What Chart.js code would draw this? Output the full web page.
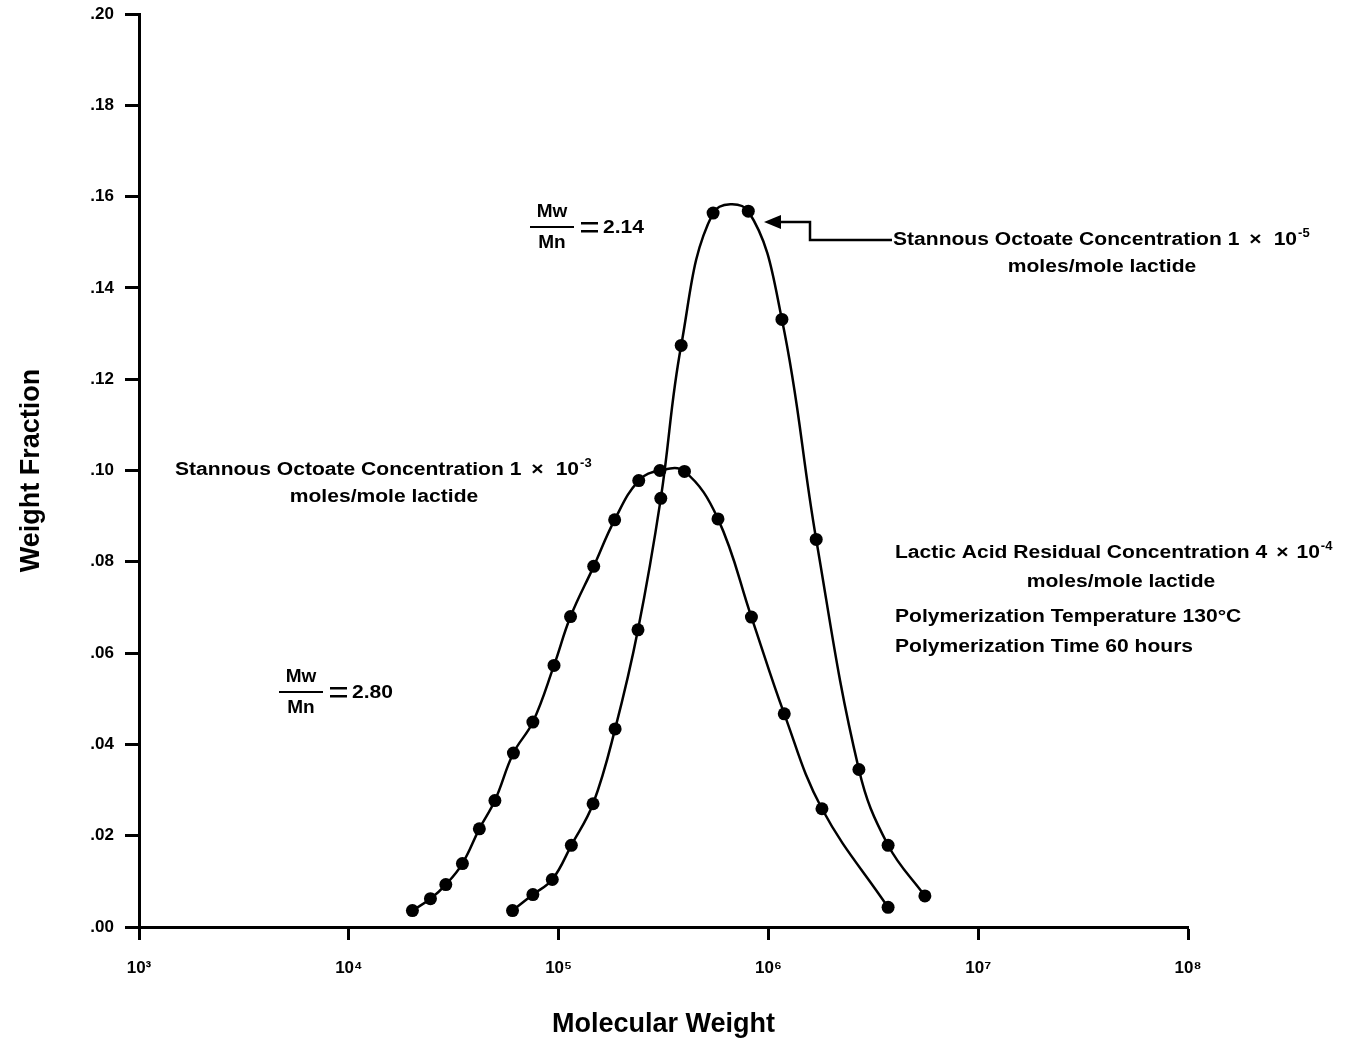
<!DOCTYPE html>
<html>
<head>
<meta charset="utf-8">
<script src="https://cdn.jsdelivr.net/npm/chart.js@4.4.1/dist/chart.umd.min.js"></script>
<style>
  body { margin: 0; background: #fff; }
  canvas { display: block; }
</style>
</head>
<body>
<canvas id="myChart" width="1346" height="1042"></canvas>
<script>
// molecular weight (x) and weight fraction (y)
const mwHighCat = [20100, 24500, 29000, 34800, 41900, 49700, 60900, 75400, 95100, 114000,
                   147000, 185000, 241000, 304000, 398000, 575000, 830000, 1190000, 1800000, 3720000]
const wfHighCat = [0.0036, 0.0062, 0.0093, 0.0139, 0.0215, 0.0277, 0.0381, 0.0449, 0.0573, 0.0680,
                   0.0790, 0.0892, 0.0978, 0.1000, 0.0998, 0.0894, 0.0679, 0.0467, 0.0259, 0.0043]

const mwLowCat = [60300, 75400, 93300, 115000, 146000, 186000, 239000, 307000, 384000, 545000,
                  802000, 1160000, 1690000, 2700000, 3720000, 5570000]
const wfLowCat = [0.0036, 0.0071, 0.0104, 0.0179, 0.0270, 0.0434, 0.0651, 0.0939, 0.1274, 0.1564,
                  0.1568, 0.1331, 0.0849, 0.0345, 0.0179, 0.0068]

const xTickValues = [1e3, 1e4, 1e5, 1e6, 1e7, 1e8]
const xTickLabels = ['10³', '10⁴', '10⁵', '10⁶', '10⁷', '10⁸']
const yTickValues = [0, 0.02, 0.04, 0.06, 0.08, 0.10, 0.12, 0.14, 0.16, 0.18, 0.20]
const yTickLabels = ['.00', '.02', '.04', '.06', '.08', '.10', '.12', '.14', '.16', '.18', '.20']

const toPoints = (xs, ys) => xs.map((x, i) => ({x: x, y: ys[i]}))

const FONT = '"Liberation Sans", Arial, sans-serif'
const SIZE = 18
const SUP = 13
const STRETCH = 1.17

// draws a row of pieces [text, gapBefore, isSuperscript], stretched a bit wider
function drawRow(ctx, pieces, x, y, align) {
  const widths = pieces.map(p => {
    ctx.font = 'bold ' + (p[2] ? SUP : SIZE) + 'px ' + FONT
    return ctx.measureText(p[0]).width * (p[2] ? 1 : STRETCH) + p[1]
  })
  const total = widths.reduce((a, b) => a + b, 0)
  let cx = align === 'center' ? x - total / 2 : x
  ctx.textAlign = 'left'
  ctx.textBaseline = 'middle'
  pieces.forEach((p, i) => {
    cx += p[1]
    ctx.font = 'bold ' + (p[2] ? SUP : SIZE) + 'px ' + FONT
    ctx.save()
    ctx.translate(cx, p[2] ? y - 7 : y)
    if (!p[2]) ctx.scale(STRETCH, 1)
    ctx.fillText(p[0], 0, 0)
    ctx.restore()
    cx += widths[i] - p[1]
  })
}

function fraction(ctx, x, y, value) {
  ctx.textBaseline = 'middle'
  ctx.textAlign = 'center'
  ctx.font = 'bold 19px ' + FONT
  ctx.fillText('Mw', x, y - 15)
  ctx.fillText('Mn', x, y + 16)
  ctx.fillRect(x - 22, y - 1, 44, 2)
  // wide equals sign
  ctx.fillRect(x + 29, y - 5, 17, 2.5)
  ctx.fillRect(x + 29, y + 3, 17, 2.5)
  drawRow(ctx, [[value, 0, false]], x + 51, y + 1)
}

const annotations = {
  id: 'annotations',
  afterDraw(chart) {
    const ctx = chart.ctx
    ctx.save()
    ctx.fillStyle = '#000'
    ctx.strokeStyle = '#000'

    fraction(ctx, 552, 227, '2.14')
    fraction(ctx, 301, 692, '2.80')

    drawRow(ctx, [['Stannous Octoate Concentration 1', 0], ['×', 10], ['10', 12], ['-5', 1, true]], 893, 240)
    drawRow(ctx, [['moles/mole lactide', 0]], 1102, 267, 'center')

    drawRow(ctx, [['Stannous Octoate Concentration 1', 0], ['×', 10], ['10', 12], ['-3', 1, true]], 175, 470)
    drawRow(ctx, [['moles/mole lactide', 0]], 384, 497, 'center')

    drawRow(ctx, [['Lactic Acid Residual Concentration 4', 0], ['×', 9], ['10', 8], ['-4', 1, true]], 895, 553)
    drawRow(ctx, [['moles/mole lactide', 0]], 1121, 582, 'center')
    drawRow(ctx, [['Polymerization Temperature 130°C', 0]], 895, 617)
    drawRow(ctx, [['Polymerization Time 60 hours', 0]], 895, 647)

    // arrow pointing to the narrow curve
    ctx.lineWidth = 2.5
    ctx.beginPath()
    ctx.moveTo(892, 240)
    ctx.lineTo(810, 240)
    ctx.lineTo(810, 222)
    ctx.lineTo(776, 222)
    ctx.stroke()
    ctx.beginPath()
    ctx.moveTo(764, 222)
    ctx.lineTo(781, 215)
    ctx.lineTo(781, 229)
    ctx.closePath()
    ctx.fill()
    ctx.restore()
  }
}

const ctx = document.getElementById('myChart')
new Chart(ctx, {
  type: 'scatter',
  data: {
    datasets: [{
      label: 'Stannous Octoate 1 x 10-3',
      data: toPoints(mwHighCat, wfHighCat),
      showLine: true,
      tension: 0.4,
      borderColor: '#000',
      borderWidth: 2.5,
      pointRadius: 6.5,
      pointBackgroundColor: '#000',
      pointBorderWidth: 0
    }, {
      label: 'Stannous Octoate 1 x 10-5',
      data: toPoints(mwLowCat, wfLowCat),
      showLine: true,
      tension: 0.4,
      borderColor: '#000',
      borderWidth: 2.5,
      pointRadius: 6.5,
      pointBackgroundColor: '#000',
      pointBorderWidth: 0
    }]
  },
  options: {
    responsive: false,
    animation: false,
    layout: { padding: { top: 14, right: 158, left: 0, bottom: 0 } },
    plugins: {
      legend: { display: false },
      tooltip: { enabled: false }
    },
    scales: {
      x: {
        type: 'logarithmic',
        min: 1e3,
        max: 1e8,
        afterBuildTicks: s => { s.ticks = xTickValues.map(v => ({ value: v })) },
        afterFit: s => { s.height = 115 },
        ticks: {
          autoSkip: false,
          maxRotation: 0,
          padding: 18,
          color: '#000',
          font: { family: FONT, size: 17, weight: 'bold' },
          callback: v => xTickLabels[xTickValues.indexOf(v)]
        },
        grid: { drawOnChartArea: false, drawTicks: true, tickLength: 13, tickWidth: 3, tickColor: '#000' },
        border: { display: true, color: '#000', width: 3 },
        title: {
          display: true,
          text: 'Molecular Weight',
          color: '#000',
          font: { family: FONT, size: 27, weight: 'bold' },
          padding: { top: 0, bottom: 1 }
        }
      },
      y: {
        min: 0,
        max: 0.2,
        afterBuildTicks: s => { s.ticks = yTickValues.map(v => ({ value: v })) },
        afterFit: s => {
          s.width = 139
          s.paddingTop = 0
          s.paddingBottom = 0
        },
        ticks: {
          padding: 11,
          color: '#000',
          font: { family: FONT, size: 17, weight: 'bold' },
          callback: (v, i) => yTickLabels[i]
        },
        grid: { drawOnChartArea: false, drawTicks: true, tickLength: 14, tickWidth: 3, tickColor: '#000' },
        border: { display: true, color: '#000', width: 3 },
        title: {
          display: true,
          text: 'Weight Fraction',
          color: '#000',
          font: { family: FONT, size: 27, weight: 'bold' },
          padding: { top: 15, bottom: 0 }
        }
      }
    }
  },
  plugins: [annotations]
})
</script>
</body>
</html>
